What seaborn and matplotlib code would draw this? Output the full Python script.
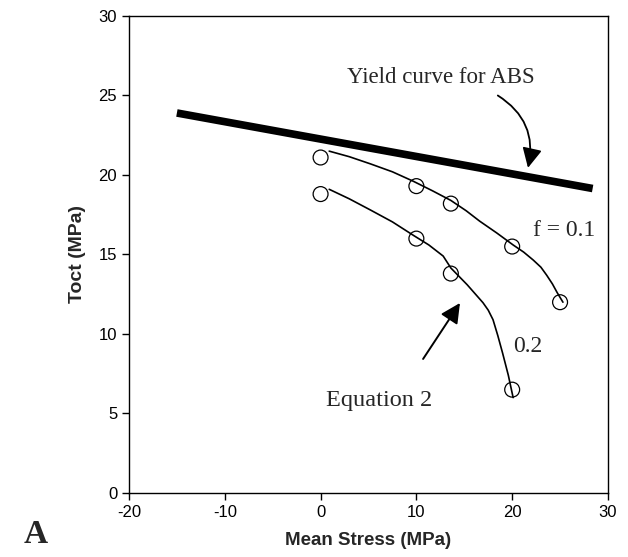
import matplotlib
matplotlib.use("Agg")
import matplotlib.pyplot as plt
import seaborn as sns

# measured points (circles)
f01_x = [0, 10, 13.6, 20, 25]
f01_y = [21.1, 19.3, 18.2, 15.5, 12.0]
f02_x = [0, 10, 13.6, 20]
f02_y = [18.8, 16.0, 13.8, 6.5]

# Equation 2 curves
f01_curve_x = [0.9, 3.0, 5.2, 7.5, 9.7, 11.7, 13.6, 15.2, 16.6, 18.4, 20.1, 21.2, 22.2, 23.0, 23.6, 24.2, 24.7, 25.3]
f01_curve_y = [21.5, 21.15, 20.7, 20.2, 19.6, 19.0, 18.4, 17.75, 17.1, 16.35, 15.6, 15.15, 14.65, 14.2, 13.7, 13.15, 12.6, 12.0]
f02_curve_x = [0.9, 3.0, 5.2, 7.5, 9.7, 11.3, 12.8, 13.6, 15.3, 16.95, 17.5, 18.0, 18.5, 19.0, 19.6, 20.1]
f02_curve_y = [19.1, 18.5, 17.8, 17.05, 16.2, 15.6, 14.9, 14.15, 13.1, 11.97, 11.5, 10.9, 9.9, 8.8, 7.4, 6.0]

# yield curve for ABS
yield_x = [-15, 28.4]
yield_y = [23.9, 19.15]

sns.set_style("ticks")
plt.rcParams['font.family'] = ['Liberation Sans', 'DejaVu Sans']
plt.rcParams['axes.unicode_minus'] = False

fig = plt.figure(figsize=(6.28, 5.57), dpi=100)
ax = fig.add_axes([0.2054, 0.1149, 0.7627, 0.8564])

sns.lineplot(x=yield_x, y=yield_y, ax=ax, color='black', lw=5.5, sort=False,
             solid_capstyle='butt')
sns.lineplot(x=f01_curve_x, y=f01_curve_y, ax=ax, color='black', lw=1.2, sort=False)
sns.lineplot(x=f02_curve_x, y=f02_curve_y, ax=ax, color='black', lw=1.2, sort=False)
sns.scatterplot(x=f01_x + f02_x, y=f01_y + f02_y, ax=ax, marker='o', s=115,
                facecolors='none', edgecolor='black', linewidth=0.9, zorder=5)

ax.set_xlim(-20, 30)
ax.set_ylim(0, 30)
ax.set_xticks(range(-20, 31, 10))
ax.set_yticks(range(0, 31, 5))
for s in ax.spines.values():
    s.set_linewidth(1.0)
    s.set_color('black')
ax.tick_params(direction='out', length=5, width=1, labelsize=12, colors='black')

ax.set_xlabel('Mean Stress (MPa)', fontsize=13.5, fontweight='bold', labelpad=9)
ax.set_ylabel('Toct (MPa)', fontsize=14, fontweight='bold', labelpad=9)

serif = ['Liberation Serif', 'DejaVu Serif']
ax.text(12.6, 26.1, 'Yield curve for ABS', fontsize=16.5, family=serif,
        ha='center', va='center')
ax.annotate('', xy=(21.65, 20.45), xytext=(18.5, 25.0),
            arrowprops=dict(arrowstyle='-|>', color='black', lw=1.3,
                            mutation_scale=30, connectionstyle='arc3,rad=-0.35',
                            shrinkA=0, shrinkB=0))
ax.text(25.4, 16.5, 'f = 0.1', fontsize=17, family=serif, ha='center', va='center')
ax.text(21.65, 9.2, '0.2', fontsize=17, family=serif, ha='center', va='center')
ax.text(6.1, 5.8, 'Equation 2', fontsize=17.5, family=serif, ha='center', va='center')
ax.annotate('', xy=(14.55, 11.95), xytext=(10.7, 8.43),
            arrowprops=dict(arrowstyle='-|>', color='black', lw=1.4,
                            mutation_scale=30, shrinkA=0, shrinkB=0))

fig.text(0.057, 0.041, 'A', fontsize=24, fontweight='bold', family=serif,
         ha='center', va='center')

fig.savefig('out.png', dpi=100)
